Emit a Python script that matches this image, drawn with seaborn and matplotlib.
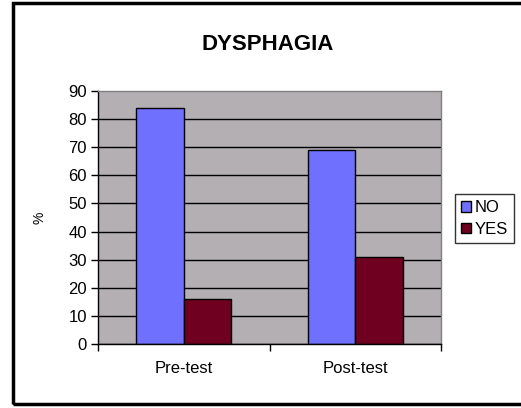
import numpy as np
import pandas as pd
import matplotlib
matplotlib.use("Agg")
import matplotlib.pyplot as plt
import seaborn as sns
from matplotlib.patches import Rectangle


TESTS = ["Pre-test", "Post-test"]
GROUPS = ["NO", "YES"]
NO_VALUES = [84, 69]
YES_VALUES = [16, 31]
Y_TICKS = [0, 10, 20, 30, 40, 50, 60, 70, 80, 90]
COLORS = {"NO": "#7070FF", "YES": "#700020"}


def build_frame() -> pd.DataFrame:
    rows = []
    for test, no_val, yes_val in zip(TESTS, NO_VALUES, YES_VALUES):
        rows.append({"test": test, "group": "NO", "value": no_val})
        rows.append({"test": test, "group": "YES", "value": yes_val})
    return pd.DataFrame(rows)


def main() -> None:
    plt.rcParams["font.family"] = ["Liberation Sans", "DejaVu Sans"]
    df = build_frame()

    fig = plt.figure(figsize=(5.21, 4.08), dpi=100)
    fig.patch.set_facecolor("white")
    ax = fig.add_axes([98 / 521, 1 - 344 / 408, (441 - 98) / 521, (344 - 91) / 408])

    sns.barplot(
        data=df, x="test", y="value", hue="group", hue_order=GROUPS,
        palette=COLORS, width=0.555, edgecolor="black", linewidth=1,
        saturation=1, ax=ax, legend=True,
    )

    ax.set_facecolor("#B3AFB3")
    ax.set_ylim(0, 90)
    ax.set_xlim(-0.5, len(TESTS) - 0.5)
    ax.set_yticks(Y_TICKS)
    ax.set_axisbelow(True)
    ax.yaxis.grid(True, color="black", linewidth=1)
    ax.get_ygridlines()[-1].set_visible(False)

    ax.set_xticks(np.arange(-0.5, len(TESTS), 1.0), minor=True)
    ax.tick_params(axis="x", which="major", length=0, pad=12, labelsize=12)
    ax.tick_params(axis="x", which="minor", length=5, width=1, direction="out")
    ax.tick_params(axis="y", length=5, width=1, pad=3, labelsize=12)

    for side in ["left", "bottom"]:
        ax.spines[side].set_color("black")
        ax.spines[side].set_linewidth(1)
    for side in ["top", "right"]:
        ax.spines[side].set_color("#808080")
        ax.spines[side].set_linewidth(1)

    ax.set_xlabel("")
    ax.set_ylabel("%", fontsize=10)
    ax.yaxis.set_label_coords(-51 / 343, 0.5)

    fig.text(268 / 521, 1 - 44 / 408, "DYSPHAGIA", ha="center", va="center",
             fontsize=16, fontweight="bold")

    handles, labels = ax.get_legend_handles_labels()
    ax.get_legend().remove()
    leg = fig.legend(
        handles, labels, loc="center left",
        bbox_to_anchor=(455 / 521, 1 - 218.5 / 408),
        frameon=True, fancybox=False, edgecolor="black",
        handlelength=0.6, handleheight=0.6, handletextpad=0.25,
        borderpad=0.35, labelspacing=0.4, fontsize=12, borderaxespad=0,
    )
    leg.get_frame().set_linewidth(1)

    fig.patches.append(Rectangle(
        (13 / 521, 4 / 408), 1.2, 1 - 7 / 408, transform=fig.transFigure,
        fill=False, edgecolor="black", linewidth=2.5, clip_on=False,
    ))

    fig.savefig("out.png", dpi=100)
    plt.close(fig)


if __name__ == "__main__":
    main()
